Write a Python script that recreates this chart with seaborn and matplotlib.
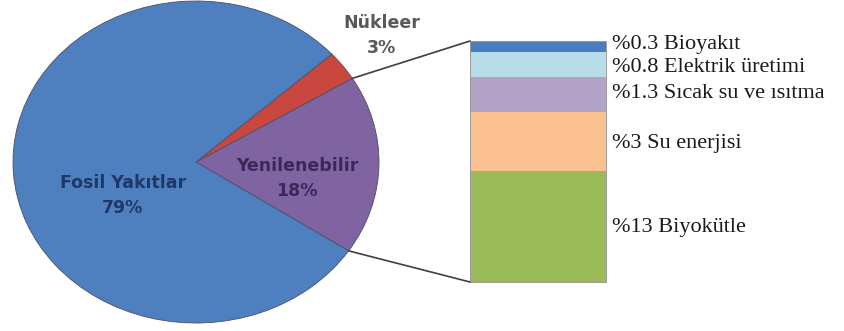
import numpy as np
import matplotlib
matplotlib.use("Agg")
import matplotlib.pyplot as plt
from matplotlib.patches import ConnectionPatch, Rectangle
from matplotlib.transforms import blended_transform_factory
import seaborn as sns

# Primary energy supply shares (%)
sources = ["Yenilenebilir", "Nükleer", "Fosil Yakıtlar"]
shares = [18, 3, 79]
source_colors = ["#8064A2", "#C8473E", "#4E80C0"]
source_text_colors = ["#3A2956", "#595959", "#1F3867"]

# Breakdown of the renewable share (%), listed top to bottom of the column
renewables = ["Bioyakıt", "Elektrik üretimi", "Sıcak su ve ısıtma", "Su enerjisi", "Biyokütle"]
renewable_shares = [0.3, 0.8, 1.3, 3, 13]
renewable_colors = ["#4A7CBF", "#B7DEE8", "#B3A2C7", "#FAC090", "#9BBB59"]

sns.set_theme(style="white")

W, H = 844, 331
fig = plt.figure(figsize=(W / 100, H / 100), dpi=100)
fig.patch.set_facecolor("white")


def px_box(x0, y0, x1, y1):
    """Axes rectangle from pixel edges (origin top-left)."""
    return [x0 / W, 1 - y1 / H, (x1 - x0) / W, (y1 - y0) / H]


# ---- elliptical pie ----
pad = 1.01
rx, ry = 183, 161
cx, cy = 196, 162
pax = fig.add_axes(px_box(cx - rx * pad, cy - ry * pad, cx + rx * pad, cy + ry * pad))
wedges, _ = pax.pie(
    shares,
    colors=source_colors,
    startangle=-33.5,
    counterclock=True,
    radius=1,
    wedgeprops=dict(edgecolor="#4d4d66", linewidth=0.6),
)
pax.set_aspect("auto")
pax.set_xlim(-pad, pad)
pax.set_ylim(-pad, pad)
pax.axis("off")

# label anchors in pie data units
label_pos = [(0.552, -0.102), (1.016, 0.783), (-0.399, -0.205)]
for name, val, (lx, ly), tc in zip(sources, shares, label_pos, source_text_colors):
    pax.text(lx, ly, f"{name}\n{val}%", ha="center", va="center",
             fontsize=12.5, fontweight="bold", color=tc,
             family="DejaVu Sans", linespacing=1.5, clip_on=False)

# ---- stacked column for the renewable breakdown ----
bx0, by0, bx1, by1 = 470, 41, 606, 282
bax = fig.add_axes(px_box(bx0, by0, bx1, by1))

heights = np.log1p(np.array(renewable_shares, dtype=float))
tops = [heights[i:].sum() for i in range(len(heights))]
total = tops[0]

for top, col in zip(tops, renewable_colors):
    sns.barplot(x=[0], y=[top], color=col, saturation=1, width=1,
                errorbar=None, linewidth=0, ax=bax)

bax.set_xlim(-0.5, 0.5)
bax.set_ylim(0, total)
bax.axis("off")
bax.add_patch(Rectangle((0, 0), 1, 1, transform=bax.transAxes, fill=False,
                        edgecolor="#9a9a9a", linewidth=0.7, clip_on=False))

trans = blended_transform_factory(bax.transAxes, bax.transData)
nudges = [1.2, -2.2, 0.8, -1.8, -0.8]
for name, val, top, h, dy in zip(renewables, renewable_shares, tops, heights, nudges):
    bax.annotate(f"%{val:g} {name}", xy=(1.044, top - h / 2), xycoords=trans,
                 xytext=(0, dy), textcoords="offset points",
                 ha="left", va="center", fontsize=16,
                 family="Liberation Serif", color="#1a1a1a", annotation_clip=False)

# ---- connectors from the renewable wedge to the column ----
ren = wedges[0]
for ang, ypos in ((ren.theta2, total), (ren.theta1, 0)):
    a = np.deg2rad(ang)
    con = ConnectionPatch(xyA=(np.cos(a), np.sin(a)), coordsA=pax.transData,
                          xyB=(-0.5, ypos), coordsB=bax.transData,
                          color="#3f3f3f", linewidth=1.2)
    fig.add_artist(con)

fig.savefig("out.png", dpi=100, facecolor="white")
